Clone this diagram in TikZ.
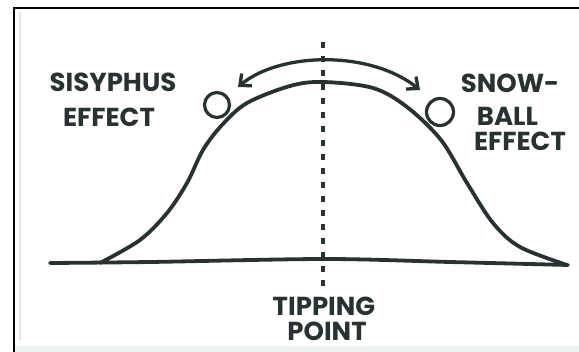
\documentclass[tikz,border=0pt]{standalone}
\usepackage{fontspec}
\setmainfont{Poppins}
\usetikzlibrary{arrows.meta}
\definecolor{ink}{RGB}{40,50,50}
\definecolor{framegray}{RGB}{225,228,228}
\definecolor{bandgray}{RGB}{234,241,239}
\tikzset{
  ink line/.style={draw=ink, line width=3.8pt, line cap=round, line join=round},
  label text/.style={text=ink, inner sep=0pt, font=\bfseries\fontsize{26}{26}\selectfont},
  ball/.style={circle, draw=ink, line width=3.2pt, inner sep=0pt},
  tip line/.style={draw=ink, line width=3.6pt, dash pattern=on 6pt off 8pt},
  swing/.style={draw=ink, line width=3.3pt, {Straight Barb[length=9pt,width=16pt,line width=3.3pt]}-{Straight Barb[length=9pt,width=16pt,line width=3.3pt]}}
}
\begin{document}
\begin{tikzpicture}[x=1pt, y=-1pt]
\useasboundingbox (0,0) rectangle (579,352);
\fill[white] (0,0) rectangle (579,352);
% faint paper shading
\fill[bandgray] (14,346) rectangle (579,352);
\draw[framegray, line width=2pt] (20,12) -- (20,340);
% frame
\draw[black, line width=1.4pt] (14,352) -- (14,8) -- (579,8);

% baseline
\draw[ink line] plot[smooth, tension=0.5] coordinates {(50,263) (150,262) (325,259) (450,262) (568,265)};
% bell curve
\draw[ink line] plot[smooth, tension=0.55] coordinates {
 (100,263) (140,240) (167,213) (187,183) (203,150) (222,125) (247,103) (290,86) (323,82)
 (373,88) (407,107) (441,140) (467,183) (493,223) (520,247) (567,265)};

% tipping point dashed line
\coordinate (tiptop) at (323,42);
\coordinate (tipbot) at (323,286);
\draw[tip line] (tiptop) -- (tipbot);

% balls
\node[ball, minimum size=25pt] (sball) at (217,105) {};
\node[ball, minimum size=27pt] (nball) at (440,112) {};

% double arrow
\coordinate (aleft) at (238,87);
\coordinate (aright) at (420,90);
\draw[swing] (aleft) .. controls (280,52) and (370,50) .. (aright);

% labels
\node[label text] (sis1) at (113,82.5) {SISYPHUS};
\node[label text] (sis2) at (109,117.5) {EFFECT};
\node[label text] (snow1) at (510,83) {SNOW-};
\node[label text] (snow2) at (507.5,116) {BALL};
\node[label text] (snow3) at (520,141.5) {EFFECT};
\node[label text] (tp1) at (324,306) {TIPPING};
\node[label text] (tp2) at (327,331) {POINT};
\end{tikzpicture}
\end{document}
